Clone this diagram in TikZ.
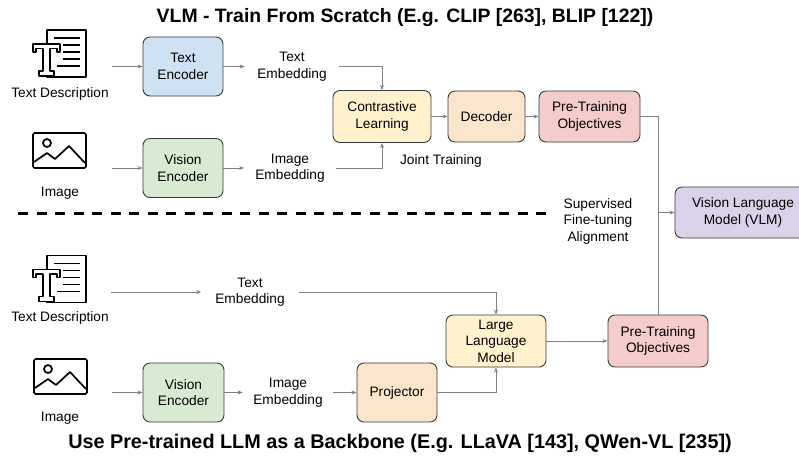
\documentclass[tikz,border=0pt]{standalone}
\usepackage{fontspec}
\setmainfont{Liberation Sans}
\usetikzlibrary{arrows.meta}
\definecolor{cblue}{HTML}{CFE2F3}
\definecolor{cgreen}{HTML}{D9EAD3}
\definecolor{cyellow}{HTML}{FFF2CC}
\definecolor{corange}{HTML}{FCE5CD}
\definecolor{cred}{HTML}{F4CCCC}
\definecolor{cpurple}{HTML}{D9D2E9}
\definecolor{cline}{HTML}{808080}
\definecolor{cborder}{HTML}{3A3A3A}
\tikzset{
  box/.style={draw=cborder, line width=0.9pt, rounded corners=7pt, align=center,
    font=\fontsize{13.7}{16.5}\selectfont, inner sep=0pt},
  lbl/.style={align=center, font=\fontsize{13.7}{16.5}\selectfont, inner ysep=0pt},
  ttl/.style={font=\fontsize{19.4}{22}\selectfont\bfseries, inner sep=0pt},
  conn/.style={draw=cline, line width=0.9pt},
  arr/.style={conn, -{Stealth[length=5pt,width=4pt]}},
  icon/.style={line width=1.7pt, draw=black, line join=round},
  texticon/.pic={
    \draw[icon] (0,0) rectangle (39,47);
    \draw[icon] (7,8) -- (33,8);
    \draw[icon] (16,15) -- (33,15);
    \draw[icon] (16,22) -- (33,22);
    \draw[icon] (16,29) -- (33,29);
    \draw[icon] (10,36) -- (33,36);
    \draw[icon, fill=white] (-14,14) -- (13,14) -- (13,22) -- (10,22) -- (10,18.5) -- (3,18.5)
      -- (3,41) -- (7,41) -- (7,46) -- (-8,46) -- (-8,41) -- (-4,41) -- (-4,18.5)
      -- (-11,18.5) -- (-11,22) -- (-14,22) -- cycle;
  },
  imageicon/.pic={
    \draw[icon, rounded corners=1.5pt] (0,0) rectangle (53,35);
    \draw[icon] (14,10) circle (4);
    \draw[icon] (1,29) -- (14,20) -- (22,26) -- (36,13) -- (52,30);
  }
}
\begin{document}
\begin{tikzpicture}[x=1pt, y=-1pt]
\useasboundingbox (0,0) rectangle (799,459);

% titles
\node[ttl] (title1) at (405,18) {VLM - Train From Scratch (E.g. CLIP [263], BLIP [122])};
\node[ttl, font=\fontsize{19.8}{22}\selectfont\bfseries] (title2) at (400,443) {Use Pre-trained LLM as a Backbone (E.g. LLaVA [143], QWen-VL [235])};

% icons
\pic at (47,30) {texticon};
\pic at (33,133) {imageicon};
\pic at (47,255.5) {texticon};
\pic at (34,359) {imageicon};

\node[lbl] (td1) at (60,94) {Text Description};
\node[lbl] (img1) at (60,193) {Image};
\node[lbl] (td2) at (60,318) {Text Description};
\node[lbl] (img2) at (60,418) {Image};

\coordinate (ti1) at (112,66.5);
\coordinate (ii1) at (112,168);
\coordinate (ti2) at (111,292);
\coordinate (ii2) at (112,392.5);

% top branch
\node[box, fill=cblue, minimum width=80pt, minimum height=59pt] (te) at (183,66.5) {Text\\Encoder};
\node[box, fill=cgreen, minimum width=80pt, minimum height=59pt] (ve1) at (183,168) {Vision\\Encoder};
\node[lbl, inner xsep=12.5pt] (temb1) at (292,66.5) {Text\\Embedding};
\node[lbl, inner xsep=11pt] (iemb1) at (290,168) {Image\\Embedding};
\node[box, fill=cyellow, minimum width=98pt, minimum height=52pt] (cl) at (382,116.5) {Contrastive\\Learning};
\node[box, fill=corange, minimum width=77pt, minimum height=51pt] (dec) at (486.5,116.5) {Decoder};
\node[box, fill=cred, minimum width=101pt, minimum height=51pt] (pt1) at (589.5,116.5) {Pre-Training\\Objectives};
\node[lbl] (jt) at (441,161) {Joint Training};
\node[lbl] (sft) at (598,221) {Supervised\\Fine-tuning\\Alignment};
\node[box, fill=cpurple, minimum width=136pt, minimum height=51pt] (vlm) at (743,212.5) {Vision Language\\Model (VLM)};

% bottom branch
\node[lbl, inner xsep=14pt] (temb2) at (250,292) {Text\\Embedding};
\node[box, fill=cgreen, minimum width=81pt, minimum height=59pt] (ve2) at (183.5,392.5) {Vision\\Encoder};
\node[lbl, inner xsep=10.5pt] (iemb2) at (288,392.5) {Image\\Embedding};
\node[box, fill=corange, minimum width=80pt, minimum height=59pt] (proj) at (397,392.5) {Projector};
\node[box, fill=cyellow, minimum width=100pt, minimum height=52pt] (llm) at (496,341) {Large\\Language\\Model};
\node[box, fill=cred, minimum width=100pt, minimum height=52pt] (pt2) at (658,341) {Pre-Training\\Objectives};

% separator
\draw[line width=3pt, dash pattern=on 10pt off 8.5pt] (18,213) -- (548,213);

% connectors top
\draw[arr] (ti1) -- (te.west);
\draw[arr] (te.east) -- (temb1.west);
\draw[arr] (temb1.east) -| (cl.north);
\draw[arr] (ii1) -- (ve1.west);
\draw[arr] (ve1.east) -- (iemb1.west);
\draw[arr] (iemb1.east) -| (cl.south);
\draw[arr] (cl.east) -- (dec.west);
\draw[arr] (dec.east) -- (pt1.west);
\draw[conn] (pt1.east) -| (pt2.north);
\coordinate (jv) at (pt2.north |- vlm.west);
\draw[arr] (jv) -- (vlm.west);

% connectors bottom
\draw[arr] (ti2) -- (temb2.west);
\draw[arr] (temb2.east) -| (llm.north);
\draw[arr] (ii2) -- (ve2.west);
\draw[arr] (ve2.east) -- (iemb2.west);
\draw[arr] (iemb2.east) -- (proj.west);
\draw[arr] (proj.east) -| (llm.south);
\draw[arr] (llm.east) -- (pt2.west);
\end{tikzpicture}
\end{document}
